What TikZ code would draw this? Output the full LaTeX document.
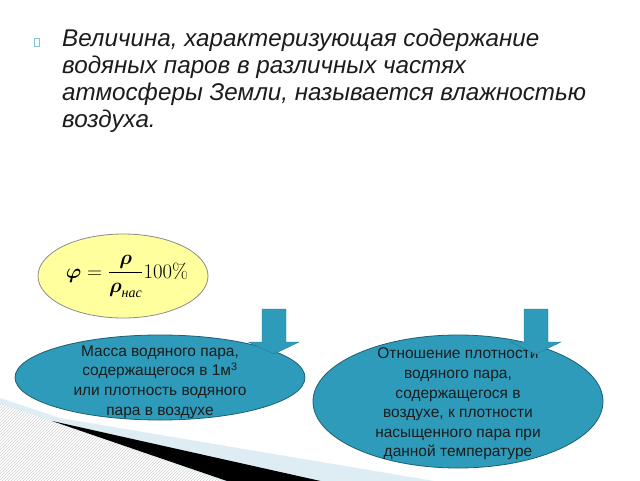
\documentclass[tikz,border=0pt]{standalone}
\usepackage{amsmath}
\usepackage[no-math]{fontspec}
\setmainfont{Liberation Sans}
\newfontfamily\timesf{Liberation Serif}
\usepackage{tikz}
\usetikzlibrary{positioning,shapes.geometric,patterns}

\definecolor{tealfill}{RGB}{46,155,186}
\definecolor{tealline}{RGB}{30,95,115}
\definecolor{paleyel}{RGB}{255,255,158}
\definecolor{paleblue}{RGB}{200,226,238}
\definecolor{darktxt}{RGB}{28,28,28}

\tikzset{
  oval/.style={ellipse, draw=tealline, fill=tealfill, line width=0.8pt, inner sep=0pt},
  ovaltext/.style={align=center, text=darktxt, inner sep=0pt,
    font=\fontsize{15.5}{19.6}\selectfont},
  blockarrow/.style={fill=tealfill, draw=tealfill!80!black, line width=0.4pt}
}

% block arrow pointing down, tip at the given coordinate
\newcommand{\downblock}[1]{%
  \draw[blockarrow] (#1) ++(0,-45) ++(-12,0) -- ++(24,0) -- ++(0,33)
    -- ++(13,0) -- (#1) -- ++(-25.5,-12) -- ++(13.5,0) -- cycle;}

\begin{document}
\begin{tikzpicture}[x=1pt,y=-1pt]
\useasboundingbox (0,0) rectangle (640,480);
\fill[white] (0,0) rectangle (640,480);

% bottom left corner of the slide
\begin{scope}
  \clip (0,0) rectangle (640,480);
  \fill[paleblue, opacity=0.6] (0,398) -- (60,418) -- (440,482) -- (0,482) -- cycle;
  \fill[white] (0,404) -- (55,422) -- (225,482) -- (0,482) -- cycle;
  \fill[pattern=north east lines, pattern color=black!18] (0,404) -- (55,422) -- (225,482) -- (0,482) -- cycle;
  \fill[black] (52,421) -- (325,482) -- (230,482) -- cycle;
\end{scope}

% heading
\node[draw=tealfill!60, line width=0.4pt, minimum width=5, minimum height=8, inner sep=0pt] (bul) at (37,42) {};
\node[anchor=north west, align=left, inner sep=0pt, text=darktxt,
      font=\fontsize{24.2}{27}\selectfont\itshape] (head) at (62,29)
  {Величина, характеризующая содержание\\
   водяных паров в различных частях\\
   атмосферы Земли, называется влажностью\\
   воздуха.};

% formula
\node[ellipse, draw=black!45, fill=paleyel, line width=0.8pt,
      minimum width=170, minimum height=84] (phi) at (123,276) {};
\node[inner sep=0pt] (form) at ([xshift=4]phi.center)
  {\fontsize{20}{24}\selectfont
   $\boldsymbol{\varphi}=\dfrac{\boldsymbol{\rho}}{\boldsymbol{\rho}_{\text{\timesf\itshape нас}}}100\%$};

% the two definitions
\node[oval, minimum width=290, minimum height=85] (abs) at (160,377.5) {};
\node[oval, minimum width=290, minimum height=133] (rel) at (458,401.5) {};
\node[ovaltext] (absT) at (160,382)
  {Масса водяного пара,\\ содержащегося в 1м\textsuperscript{3}\\
   или плотность водяного\\ пара в воздухе};
\node[ovaltext] (relT) at (458,404)
  {Отношение плотности\\ водяного пара,\\ содержащегося в\\
   воздухе, к плотности\\ насыщенного пара при\\ данной температуре};

% arrows
\coordinate (tipA) at (274,354);
\coordinate (tipB) at (536,354);
\downblock{tipA}
\downblock{tipB}
\end{tikzpicture}
\end{document}
